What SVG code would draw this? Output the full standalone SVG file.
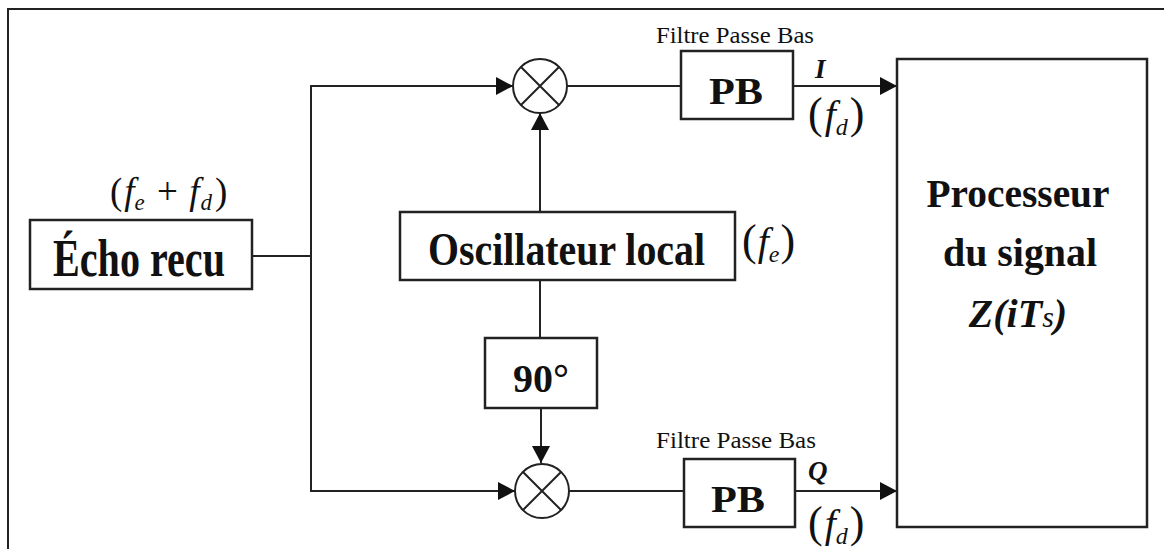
<svg xmlns="http://www.w3.org/2000/svg" width="1164" height="549" viewBox="0 0 1164 549">
<defs>
<style>
.box{fill:#fff;stroke:#222;stroke-width:2.5}
.wire{fill:none;stroke:#222;stroke-width:2}
.frame{fill:none;stroke:#222;stroke-width:2}
.t{font-family:"Liberation Serif",serif;font-weight:bold;fill:#111}
.r{font-family:"Liberation Serif",serif;fill:#111}
.m{font-family:"Liberation Serif",serif;fill:#111}
.i{font-style:italic}
</style>
<marker id="arr" markerWidth="18" markerHeight="18" refX="17" refY="9" orient="auto" markerUnits="userSpaceOnUse">
<path d="M0,0 L17,9 L0,18 z" fill="#111"/>
</marker>
</defs>
<rect width="1164" height="549" fill="#fff"/>
<path class="frame" d="M8,549 V9 H1164"/>

<g id="connectors">
<path class="wire" d="M252,256 H311"/>
<path class="wire" d="M311,256 V86 H513" marker-end="url(#arr)"/>
<path class="wire" d="M311,256 V491 H515" marker-end="url(#arr)"/>
<path class="wire" d="M540,212 V113" marker-end="url(#arr)"/>
<path class="wire" d="M540,280 V338"/>
<path class="wire" d="M541,408 V463" marker-end="url(#arr)"/>
<path class="wire" d="M567,86 H681"/>
<path class="wire" d="M793,86 H897" marker-end="url(#arr)"/>
<path class="wire" d="M569,491 H684"/>
<path class="wire" d="M795,491 H897" marker-end="url(#arr)"/>
</g>

<g id="echo">
<rect class="box" x="30" y="220" width="222" height="69"/>
<text class="t" transform="translate(53,276) scale(1,1.25)" x="0" y="0" font-size="43" textLength="172" lengthAdjust="spacingAndGlyphs">Écho recu</text>
<text class="m" x="110" y="204" font-size="37"><tspan>(</tspan><tspan class="i" dx="2">f</tspan><tspan font-size="23" class="i" dy="6">e</tspan><tspan dy="-6" dx="3"> + </tspan><tspan class="i" dx="2">f</tspan><tspan font-size="23" class="i" dy="6" dx="1">d</tspan><tspan dy="-6" dx="3">)</tspan></text>
</g>

<g id="mixer-top">
<circle class="wire" cx="540" cy="86" r="27"/>
<path class="wire" d="M521,67 L559,105 M559,67 L521,105"/>
</g>

<g id="mixer-bottom">
<circle class="wire" cx="542" cy="491" r="27"/>
<path class="wire" d="M523,472 L561,510 M561,472 L523,510"/>
</g>

<g id="oscillateur">
<rect class="box" x="400" y="212" width="335" height="68"/>
<text class="t" transform="translate(428,265) scale(1,1.15)" x="0" y="0" font-size="40" textLength="277" lengthAdjust="spacingAndGlyphs">Oscillateur local</text>
<text class="m" x="742" y="255" font-size="40"><tspan font-size="44">(</tspan><tspan class="i" dx="1">f</tspan><tspan font-size="24" class="i" dy="7">e</tspan><tspan font-size="44" dy="-7" dx="1">)</tspan></text>
</g>

<g id="dephaseur">
<rect class="box" x="485" y="338" width="112" height="70"/>
<text class="t" x="541" y="392" font-size="40" text-anchor="middle">90°</text>
</g>

<g id="pb-top">
<text class="r" x="656" y="43" font-size="23" textLength="158" lengthAdjust="spacingAndGlyphs">Filtre Passe Bas</text>
<rect class="box" x="681" y="51" width="112" height="68"/>
<text class="t" x="709" y="104" font-size="38" textLength="54" lengthAdjust="spacingAndGlyphs">PB</text>
<text class="t i" x="815" y="78" font-size="27">I</text>
<text class="m" x="808" y="128" font-size="40"><tspan font-size="44">(</tspan><tspan class="i" dx="2">f</tspan><tspan font-size="24" class="i" dy="7">d</tspan><tspan font-size="44" dy="-7" dx="2">)</tspan></text>
</g>

<g id="pb-bottom">
<text class="r" x="656" y="448" font-size="23" textLength="160" lengthAdjust="spacingAndGlyphs">Filtre Passe Bas</text>
<rect class="box" x="684" y="459" width="111" height="68"/>
<text class="t" x="711" y="512" font-size="38" textLength="54" lengthAdjust="spacingAndGlyphs">PB</text>
<text class="t i" x="808" y="480" font-size="27">Q</text>
<text class="m" x="808" y="537" font-size="40"><tspan font-size="44">(</tspan><tspan class="i" dx="2">f</tspan><tspan font-size="24" class="i" dy="7">d</tspan><tspan font-size="44" dy="-7" dx="2">)</tspan></text>
</g>

<g id="processeur">
<rect class="box" x="897" y="59" width="250" height="468"/>
<text class="t" x="1018" y="207" font-size="41" text-anchor="middle" textLength="183" lengthAdjust="spacingAndGlyphs">Processeur</text>
<text class="t" x="1020" y="266" font-size="41" text-anchor="middle" textLength="154" lengthAdjust="spacingAndGlyphs">du signal</text>
<text class="t i" x="1018" y="327" font-size="40" text-anchor="middle">Z(iT<tspan font-size="30" font-weight="normal">s</tspan>)</text>
</g>
</svg>
